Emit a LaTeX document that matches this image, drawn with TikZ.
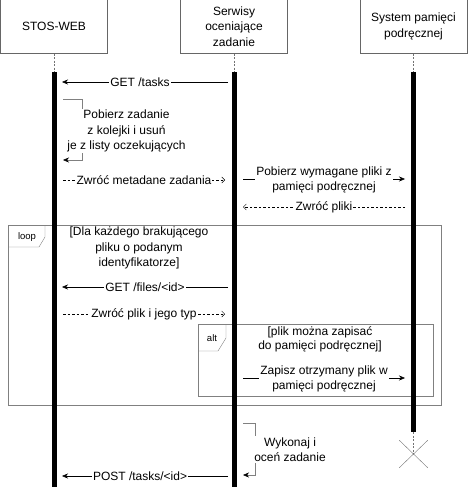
\documentclass[tikz,border=0pt]{standalone}
\usepackage{fontspec}
\setmainfont{Liberation Sans}
\usetikzlibrary{arrows.meta, positioning, shapes.misc}
\tikzstyle{actor}=[draw=black!60,minimum width=107pt,minimum height=54pt,inner sep=0pt,align=center]
\tikzstyle{bar}=[fill=black,minimum width=5pt,inner sep=0pt,anchor=north]
\tikzstyle{lifeline}=[draw=black!55,dash pattern=on 2pt off 1.5pt]
\tikzstyle{msg}=[thin,-{Stealth[length=6pt,width=5pt]}]
\tikzstyle{ret}=[thin,dash pattern=on 2.5pt off 2pt,-{Straight Barb[length=3pt,width=6pt]}]
\tikzstyle{selfmsg}=[thin,draw=black!50,-{Stealth[length=6pt,width=5pt,black]}]
\tikzstyle{lbl}=[fill=white,inner sep=1pt,align=center]
\tikzstyle{frame}=[draw=black!50,inner sep=0pt,anchor=north west]
\tikzstyle{tag}=[font=\fontsize{9.5}{11}\selectfont]

\begin{document}
\begin{tikzpicture}[x=1pt,y=-1pt,font=\fontsize{12}{15.5}\selectfont]
	\useasboundingbox (0,0) rectangle (469,487);
	\node [actor] (web) at (54,26.5) {STOS-WEB};
	\node [actor] (judge) at (234,26.5) {Serwisy\\oceniające\\zadanie};
	\node [actor] (cache) at (413.5,26.5) {System pamięci\\podręcznej};
	
	\node [frame, minimum width=433pt, minimum height=180pt] (loop) at (8,225) {};
	\draw [frame] (8,247) -- (39,247) -- (45,237) -- (45,225);
	\node [tag] at (27,237) {loop};
	\node [lbl, fill=none] (loopguard) at (139,248) {[Dla każdego brakującego\\pliku o podanym\\identyfikatorze]};
	
	\node [frame, minimum width=235pt, minimum height=72pt] (alt) at (198,324) {};
	\draw [frame] (198,351) -- (218,351) -- (226,338) -- (226,324);
	\node [tag] at (212,338) {alt};
	\node [lbl, fill=none, font=\fontsize{12}{13.5}\selectfont] (altguard) at (320,339.5) {[plik można zapisać\\do pamięci podręcznej]};
	
	\node [bar, minimum height=416pt] (webbar) at (54,72) {};
	\node [bar, minimum height=416pt] (judgebar) at (234,72) {};
	\node [bar, minimum height=360pt] (cachebar) at (413.5,72) {};
	\node [cross out, draw=black!55, minimum width=28pt, minimum height=27pt, inner sep=0pt] (end) at (413.5,454) {};
	
	\draw [lifeline] (web) -- (webbar);
	\draw [lifeline] (judge) -- (judgebar);
	\draw [lifeline] (cache) -- (cachebar);
	\draw [lifeline] (cachebar) -- (end.center);
	
	\coordinate (getA) at (228,82);
	\coordinate (getB) at (62,82);
	\coordinate (popA) at (63,99);
	\coordinate (popB) at (63,160);
	\coordinate (metaA) at (63,180);
	\coordinate (metaB) at (225,180);
	\coordinate (fetchA) at (243,179);
	\coordinate (fetchB) at (405,179);
	\coordinate (filesA) at (405,207);
	\coordinate (filesB) at (243,207);
	\coordinate (getfA) at (228,287);
	\coordinate (getfB) at (62,287);
	\coordinate (fileA) at (63,314);
	\coordinate (fileB) at (225,314);
	\coordinate (saveA) at (243,378);
	\coordinate (saveB) at (405,378);
	\coordinate (evalA) at (243,423);
	\coordinate (evalB) at (243,475);
	\coordinate (postA) at (228,476);
	\coordinate (postB) at (62,476);
	
	\draw [msg] (getA) -- node[lbl, pos=0.53] {GET /tasks} (getB);
	\draw [selfmsg] (popA) -- ++(19,0) -- node[lbl, xshift=44.5pt, yshift=-1.5pt] {Pobierz zadanie\\z kolejki i usuń\\je z listy oczekujących} ++(0,61) -- (popB);
	\draw [ret] (metaA) -- node[lbl] {Zwróć metadane zadania} (metaB);
	\draw [msg] (fetchA) -- node[lbl, yshift=-1pt] {Pobierz wymagane pliki z\\pamięci podręcznej} (fetchB);
	\draw [ret] (filesA) -- node[lbl] {Zwróć pliki} (filesB);
	\draw [msg] (getfA) -- node[lbl] {GET /files/<id>} (getfB);
	\draw [ret] (fileA) -- node[lbl] {Zwróć plik i jego typ} (fileB);
	\draw [msg] (saveA) -- node[lbl, yshift=-1pt] {Zapisz otrzymany plik w\\pamięci podręcznej} (saveB);
	\draw [selfmsg] (evalA) -- ++(12,0) -- node[lbl, xshift=35pt, yshift=-0.5pt] {Wykonaj i\\oceń zadanie} ++(0,52) -- (evalB);
	\draw [msg] (postA) -- node[lbl, pos=0.53] {POST /tasks/<id>} (postB);
\end{tikzpicture}
\end{document}
